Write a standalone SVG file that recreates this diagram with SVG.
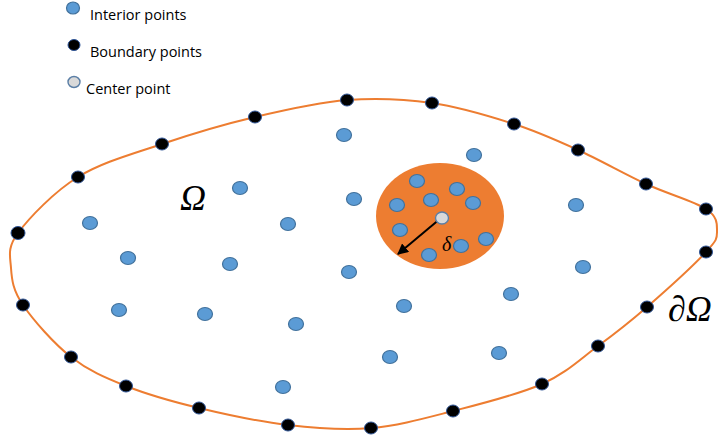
<svg xmlns="http://www.w3.org/2000/svg" width="721" height="440" viewBox="0 0 721 440">
<style>
.int{fill:#5B9BD5;stroke:#41719C;stroke-width:1.2}
.bnd{fill:#000;stroke:#2F5597;stroke-width:1}
.ctr{fill:#D9D9D9;stroke:#5B7FA6;stroke-width:1.4}
.leg{font-family:"Open Sans","Liberation Sans",sans-serif;font-size:14.5px;fill:#000}
.math{font-family:"Liberation Serif","DejaVu Serif",serif;font-style:italic;fill:#000}
</style>
<defs>
<marker id="ah" viewBox="0 0 10 10" refX="9" refY="5" markerWidth="5.5" markerHeight="5.5" orient="auto">
<path d="M0,0 L10,5 L0,10 z" fill="#000"/>
</marker>
</defs>
<rect width="721" height="440" fill="#fff"/>
<g id="legend">
<ellipse class="int" cx="73" cy="8" rx="6.5" ry="6"/>
<text class="leg" x="90" y="20">Interior points</text>
<ellipse class="bnd" cx="74" cy="45" rx="6" ry="5.5"/>
<text class="leg" x="90" y="57">Boundary points</text>
<ellipse class="ctr" cx="74" cy="82" rx="6" ry="5.5"/>
<text class="leg" x="86" y="94">Center point</text>
</g>
<g id="connectors">
<path id="boundary" fill="none" stroke="#ED7D31" stroke-width="2" d="M18,233 C29.2,217.8 54,191.8 78,177 C102,162.2 132.5,154 162,144 C191.5,134 224.2,124.3 255,117 C285.8,109.7 317.5,102.3 347,100 C376.5,97.7 404.2,99 432,103 C459.8,107 489.7,116.2 514,124 C538.3,131.8 556,140 578,150 C600,160 624.7,174.2 646,184 C667.3,193.8 694.2,201.2 706,209 C717.8,216.8 717,223.8 717,231 C717,238.2 717.7,239.3 706,252 C694.3,264.7 665,291.3 647,307 C629,322.7 615.5,333.2 598,346 C580.5,358.8 566.2,373.2 542,384 C517.8,394.8 481.5,403.7 453,411 C424.5,418.3 398.5,425.7 371,428 C343.5,430.3 316.7,428.3 288,425 C259.3,421.7 226,414.5 199,408 C172,401.5 147.3,394.5 126,386 C104.7,377.5 88.2,370.5 71,357 C53.8,343.5 33,319.8 23,305 C13,290.2 11.8,280 11,268 C10.2,256 6.8,248.2 18,233 Z"/>
</g>
<g id="neighborhood">
<ellipse cx="440" cy="216" rx="64" ry="53" fill="#ED7D31"/>
<ellipse class="int" cx="417" cy="181" rx="7.5" ry="6.5"/>
<ellipse class="int" cx="457" cy="189" rx="7.5" ry="6.5"/>
<ellipse class="int" cx="431" cy="200" rx="7.5" ry="6.5"/>
<ellipse class="int" cx="397" cy="205" rx="7.5" ry="6.5"/>
<ellipse class="int" cx="473" cy="203" rx="7.5" ry="6.5"/>
<ellipse class="int" cx="400" cy="230" rx="7.5" ry="6.5"/>
<ellipse class="int" cx="486" cy="239" rx="7.5" ry="6.5"/>
<ellipse class="int" cx="461" cy="246" rx="7.5" ry="6.5"/>
<ellipse class="int" cx="429" cy="255" rx="7.5" ry="6.5"/>
<line x1="441" y1="218" x2="398" y2="254" stroke="#000" stroke-width="2" marker-end="url(#ah)"/>
<ellipse class="ctr" cx="442" cy="218" rx="6.5" ry="6"/>
<text class="math" x="442" y="251" font-size="20">δ</text>
</g>
<g id="interior">
<ellipse class="int" cx="344" cy="135" rx="7.5" ry="6.5"/>
<ellipse class="int" cx="474" cy="155" rx="7.5" ry="6.5"/>
<ellipse class="int" cx="240" cy="188" rx="7.5" ry="6.5"/>
<ellipse class="int" cx="354" cy="199" rx="7.5" ry="6.5"/>
<ellipse class="int" cx="90" cy="223" rx="7.5" ry="6.5"/>
<ellipse class="int" cx="288" cy="224" rx="7.5" ry="6.5"/>
<ellipse class="int" cx="576" cy="205" rx="7.5" ry="6.5"/>
<ellipse class="int" cx="128" cy="258" rx="7.5" ry="6.5"/>
<ellipse class="int" cx="230" cy="264" rx="7.5" ry="6.5"/>
<ellipse class="int" cx="349" cy="272" rx="7.5" ry="6.5"/>
<ellipse class="int" cx="583" cy="267" rx="7.5" ry="6.5"/>
<ellipse class="int" cx="119" cy="310" rx="7.5" ry="6.5"/>
<ellipse class="int" cx="205" cy="314" rx="7.5" ry="6.5"/>
<ellipse class="int" cx="404" cy="306" rx="7.5" ry="6.5"/>
<ellipse class="int" cx="511" cy="294" rx="7.5" ry="6.5"/>
<ellipse class="int" cx="296" cy="324" rx="7.5" ry="6.5"/>
<ellipse class="int" cx="390" cy="357" rx="7.5" ry="6.5"/>
<ellipse class="int" cx="499" cy="353" rx="7.5" ry="6.5"/>
<ellipse class="int" cx="283" cy="387" rx="7.5" ry="6.5"/>
</g>
<g id="boundary-points">
<ellipse class="bnd" cx="347" cy="100" rx="6.5" ry="6"/>
<ellipse class="bnd" cx="432" cy="103" rx="6.5" ry="6"/>
<ellipse class="bnd" cx="514" cy="124" rx="6.5" ry="6"/>
<ellipse class="bnd" cx="578" cy="150" rx="6.5" ry="6"/>
<ellipse class="bnd" cx="646" cy="184" rx="6.5" ry="6"/>
<ellipse class="bnd" cx="706" cy="209" rx="6.5" ry="6"/>
<ellipse class="bnd" cx="706" cy="252" rx="6.5" ry="6"/>
<ellipse class="bnd" cx="647" cy="307" rx="6.5" ry="6"/>
<ellipse class="bnd" cx="598" cy="346" rx="6.5" ry="6"/>
<ellipse class="bnd" cx="542" cy="384" rx="6.5" ry="6"/>
<ellipse class="bnd" cx="453" cy="411" rx="6.5" ry="6"/>
<ellipse class="bnd" cx="371" cy="428" rx="6.5" ry="6"/>
<ellipse class="bnd" cx="288" cy="425" rx="6.5" ry="6"/>
<ellipse class="bnd" cx="199" cy="408" rx="6.5" ry="6"/>
<ellipse class="bnd" cx="126" cy="386" rx="6.5" ry="6"/>
<ellipse class="bnd" cx="71" cy="357" rx="6.5" ry="6"/>
<ellipse class="bnd" cx="23" cy="305" rx="6.5" ry="6"/>
<ellipse class="bnd" cx="18" cy="233" rx="7" ry="6.5"/>
<ellipse class="bnd" cx="78" cy="177" rx="6.5" ry="6"/>
<ellipse class="bnd" cx="162" cy="144" rx="6.5" ry="6"/>
<ellipse class="bnd" cx="255" cy="117" rx="6.5" ry="6"/>
</g>
<g id="labels">
<text class="math" x="180" y="210" font-size="36">Ω</text>
<text class="math" x="668" y="321" font-size="36">∂Ω</text>
</g>
</svg>
